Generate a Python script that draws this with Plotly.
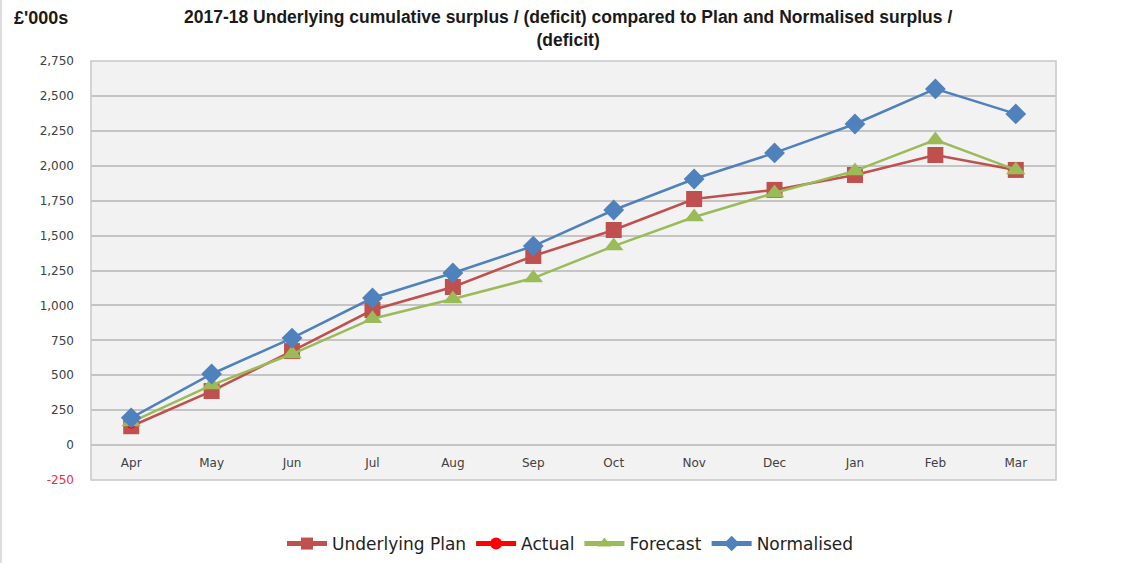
import plotly.graph_objects as go

months = ["Apr", "May", "Jun", "Jul", "Aug", "Sep", "Oct", "Nov", "Dec", "Jan", "Feb", "Mar"]
plan = [135, 387, 673, 967, 1132, 1354, 1540, 1762, 1827, 1934, 2077, 1970]
actual = [150, None, None, None, None, None, None, None, None, None, None, None]
forecast = [165, 430, 652, 905, 1046, 1196, 1425, 1633, 1805, 1963, 2185, 1970]
normalised = [195, 509, 766, 1053, 1232, 1425, 1683, 1905, 2092, 2299, 2550, 2371]

y_ticks = [-250, 0, 250, 500, 750, 1000, 1250, 1500, 1750, 2000, 2250, 2500, 2750]
y_labels = ['<span style="color:#e8303a">-250</span>'] + [f"{v:,}" for v in y_ticks[1:]]
y_min, y_max = -250, 2750

title_l1 = "2017-18 Underlying cumulative surplus / (deficit) compared to Plan and Normalised surplus /"
title_l2 = "(deficit)"
unit_label = "£'000s"

fig = go.Figure()
fig.add_trace(go.Scatter(x=months, y=plan, name="Underlying Plan", mode="lines+markers",
                         line=dict(color="#c0504d", width=2.5),
                         marker=dict(symbol="square", size=16, color="#c0504d")))
fig.add_trace(go.Scatter(x=months, y=actual, name="Actual", mode="lines+markers",
                         line=dict(color="#ff0000", width=2.5),
                         marker=dict(symbol="circle", size=9, color="#ff0000")))
fig.add_trace(go.Scatter(x=months, y=forecast, name="Forecast", mode="lines+markers",
                         line=dict(color="#9bbb59", width=2.5),
                         marker=dict(symbol="triangle-up", size=17, color="#9bbb59")))
fig.add_trace(go.Scatter(x=months, y=normalised, name="Normalised", mode="lines+markers",
                         line=dict(color="#4f81bd", width=2.5),
                         marker=dict(symbol="diamond", size=16, color="#4f81bd")))

zero_pos = (0 - y_min) / (y_max - y_min)
W, H, L, R, T, B = 1134, 563, 91, 78, 61, 83
pw = W - L - R
ph = H - T - B
bold_font = "Liberation Sans, Arial, sans-serif"

def py(pixel_y):
    return (H - B - pixel_y) / ph

def px(pixel_x):
    return (pixel_x - L) / pw

fig.update_layout(
    width=W, height=H,
    margin=dict(l=L, r=R, t=T, b=B, autoexpand=False),
    paper_bgcolor="white",
    plot_bgcolor="#f2f2f2",
    font=dict(family="DejaVu Sans, sans-serif", size=12, color="#404040"),
    showlegend=True,
    legend=dict(orientation="h", x=px(570), xanchor="center", y=py(544), yanchor="middle",
                font=dict(family="DejaVu Sans, sans-serif", size=17, color="#222222"),
                itemwidth=40, itemsizing="constant", traceorder="normal"),
    xaxis=dict(type="category", range=[-0.5, 11.5], showgrid=False, zeroline=False,
               showline=False, anchor="free", position=zero_pos, side="bottom",
               ticks="", tickfont=dict(size=12, color="#404040"), ticklabelstandoff=9,
               fixedrange=True),
    yaxis=dict(range=[y_min, y_max], tickvals=y_ticks, ticktext=y_labels,
               showgrid=True, gridcolor="#c4c4c4", gridwidth=1.5, zeroline=False,
               showline=False, ticks="", ticklabelstandoff=16,
               tickfont=dict(size=12, color="#404040")),
    annotations=[
        dict(text=f"<b>{title_l1}<br>{title_l2}</b>", xref="paper", yref="paper",
             x=px(568), y=py(28), xanchor="center", yanchor="middle", showarrow=False,
             font=dict(family=bold_font, size=17.5, color="#1a1a1a")),
        dict(text=f"<b>{unit_label}</b>", xref="paper", yref="paper", x=px(12), y=py(18),
             xanchor="left", yanchor="middle", showarrow=False,
             font=dict(family=bold_font, size=18, color="#1a1a1a")),
    ],
    shapes=[
        dict(type="rect", xref="paper", yref="paper", x0=0, x1=1, y0=0, y1=1,
             line=dict(color="#c8c8c8", width=1.5), layer="above"),
        dict(type="line", xref="paper", yref="paper", x0=px(1), x1=px(1),
             y0=py(H), y1=py(0), line=dict(color="#d0d0d0", width=1.5)),
    ],
)

fig.write_html("out.html", config={"displayModeBar": False},
               post_script="document.body.style.margin='0px';")
